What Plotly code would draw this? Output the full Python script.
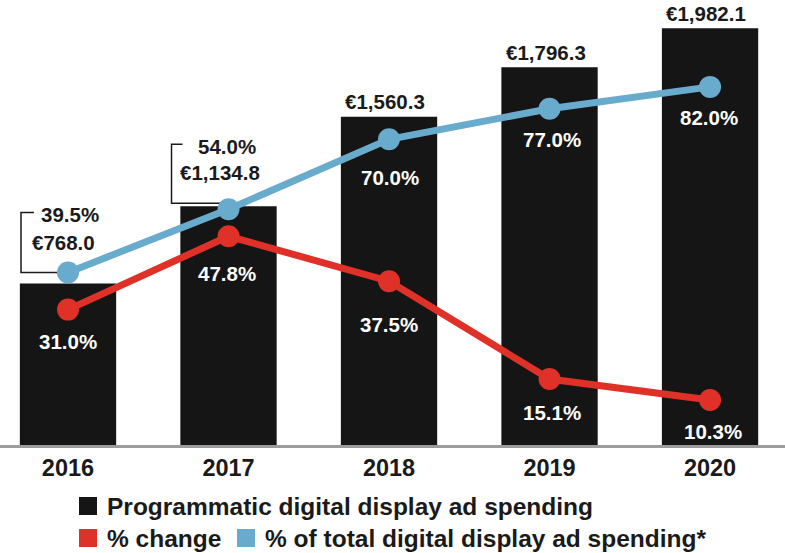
# Programmatic digital display ad spending - bars plus two percentage lines
import plotly.graph_objects as go

# Data
years = [2016, 2017, 2018, 2019, 2020]
spending = [768.0, 1134.8, 1560.3, 1796.3, 1982.1]          # EUR millions
pct_change = [31.0, 47.8, 37.5, 15.1, 10.3]
pct_of_total = [39.5, 54.0, 70.0, 77.0, 82.0]

legend_labels = ['Programmatic digital display ad spending',
                 '% change',
                 '% of total digital display ad spending*']

# Colours and fonts
BAR_COLOR = '#151515'
RED = '#df3127'
BLUE = '#68abcc'
DARK = '#1a1a1a'
FONT = 'Liberation Sans, Arial, Helvetica, sans-serif'

W, H = 785, 553
BOTTOM = 108   # space under the plot area for years + legend

# Label offsets in pixels (x, y) - styling only
bar_label_shift = [(-5, 41), (-9, 34), (-4, 15), (-4, 15), (-4, 15)]
red_label_shift = [(0, -32), (-2, -37), (0, -43), (2, -33), (3, -31)]
blue_label_shift = [(2, 58), (-2, 63), (1, -38), (2, -31), (-1, -31)]
blue_inside = [False, False, True, True, True]

fig = go.Figure()

fig.add_trace(go.Bar(
    x=years, y=spending, width=0.6,
    marker=dict(color=BAR_COLOR, line=dict(width=0)),
    name=legend_labels[0], showlegend=False, hoverinfo='x+y'
))
fig.add_trace(go.Scatter(
    x=years, y=pct_change, yaxis='y2', mode='lines+markers',
    line=dict(color=RED, width=7), marker=dict(color=RED, size=22),
    name=legend_labels[1], showlegend=False
))
fig.add_trace(go.Scatter(
    x=years, y=pct_of_total, yaxis='y2', mode='lines+markers',
    line=dict(color=BLUE, width=7), marker=dict(color=BLUE, size=22),
    name=legend_labels[2], showlegend=False
))

annotations = []
lab_font = dict(family=FONT, size=20.5, weight='bold')

# Bar value labels
for i, yr in enumerate(years):
    dx, dy = bar_label_shift[i]
    annotations.append(dict(
        x=yr, y=spending[i], xref='x', yref='y', text=f'€{spending[i]:,.1f}',
        showarrow=False, xshift=dx, yshift=dy, yanchor='middle',
        font=dict(lab_font, color=DARK)
    ))

# % change labels (white, under the markers)
for i, yr in enumerate(years):
    dx, dy = red_label_shift[i]
    annotations.append(dict(
        x=yr, y=pct_change[i], xref='x', yref='y2', text=f'{pct_change[i]:.1f}%',
        showarrow=False, xshift=dx, yshift=dy, yanchor='middle',
        font=dict(lab_font, color='white')
    ))

# % of total labels
for i, yr in enumerate(years):
    dx, dy = blue_label_shift[i]
    annotations.append(dict(
        x=yr, y=pct_of_total[i], xref='x', yref='y2', text=f'{pct_of_total[i]:.1f}%',
        showarrow=False, xshift=dx, yshift=dy, yanchor='middle',
        font=dict(lab_font, color='white' if blue_inside[i] else DARK)
    ))

# Callout brackets for the first two years
shapes = []
bracket_paths = ['M -34,60 L -47,60 L -47,0 L 0,0',
                 'M -46,65 L -57,65 L -57,6 L 0,6']
for i, p in enumerate(bracket_paths):
    shapes.append(dict(
        type='path', path=p, xref='x', yref='y2',
        xsizemode='pixel', ysizemode='pixel',
        xanchor=years[i], yanchor=pct_of_total[i],
        line=dict(color=DARK, width=1.5), layer='below'
    ))

# Legend built by hand: squares + text (pixel rows measured from the top)
leg_font = dict(family=FONT, size=24.5, weight='bold', color=DARK)
legend_items = [
    (BAR_COLOR, legend_labels[0], 79, 506),
    (RED, legend_labels[1], 79, 538),
    (BLUE, legend_labels[2], 237, 538),
]
plot_h = H - BOTTOM
for color, label, px, py in legend_items:
    dy = -(py - plot_h)
    shapes.append(dict(
        type='rect', xref='paper', yref='paper',
        xsizemode='pixel', ysizemode='pixel',
        xanchor=px / W, yanchor=0,
        x0=0, x1=18, y0=dy - 9, y1=dy + 9,
        fillcolor=color, line=dict(width=0)
    ))
    annotations.append(dict(
        x=px / W, y=0, xref='paper', yref='paper', text=label,
        showarrow=False, xanchor='left', yanchor='middle',
        xshift=26, yshift=dy, font=leg_font
    ))

fig.update_layout(
    width=W, height=H,
    margin=dict(l=0, r=0, t=0, b=BOTTOM),
    plot_bgcolor='white', paper_bgcolor='white',
    showlegend=False,
    xaxis=dict(
        range=[years[0] - 0.4237, years[-1] + 0.467],
        tickvals=years, ticktext=[str(y) for y in years],
        showgrid=False, zeroline=False,
        showline=True, linecolor='#9c9c9c', linewidth=3,
        ticks='', tickfont=dict(family=FONT, size=23.5, weight='bold', color=DARK),
        fixedrange=True
    ),
    yaxis=dict(range=[0, 2116], visible=False, showgrid=False, zeroline=False),
    yaxis2=dict(range=[0, 101.9], overlaying='y', visible=False,
                showgrid=False, zeroline=False),
    annotations=annotations,
    shapes=shapes,
)

# page body has a default 8px margin; drop it so the figure sits at 0,0
fig.write_html('out.html', config={'displayModeBar': False},
               post_script="document.body.style.margin='0';")
